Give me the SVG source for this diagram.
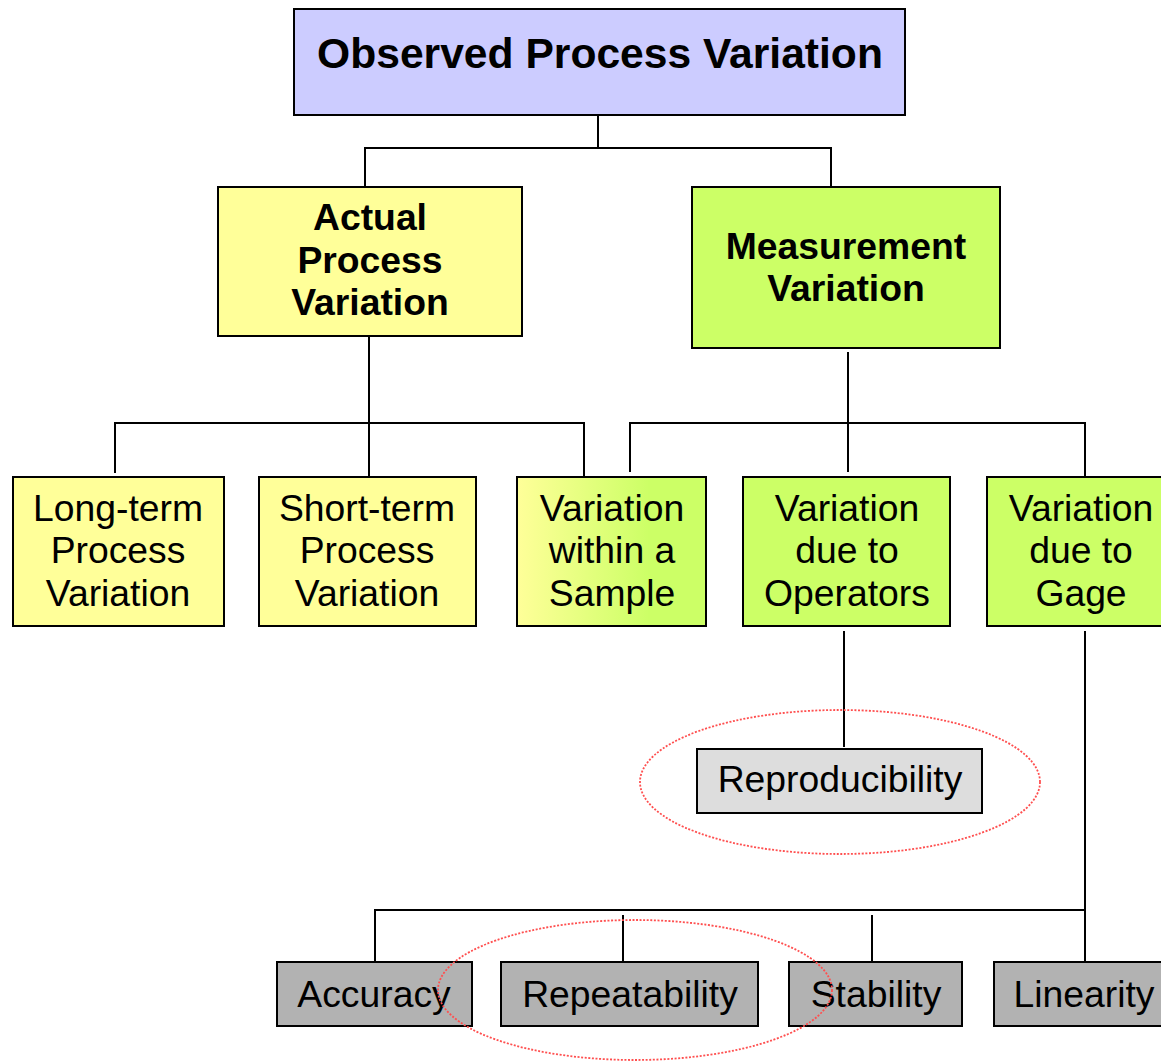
<svg xmlns="http://www.w3.org/2000/svg" width="1161" height="1062" viewBox="0 0 1161 1062">
  <style>
    .box { stroke: #000; stroke-width: 2; }
    .top { fill: #CCCCFF; }
    .yel { fill: #FFFF99; }
    .grn { fill: #CCFF66; }
    .lgr { fill: #DDDDDD; }
    .dgr { fill: #B2B2B2; }
    .conn { stroke: #000; stroke-width: 2; fill: none; }
    .hl { stroke: #FF4F4F; stroke-width: 1.8; stroke-dasharray: 2 1.6; fill: none; }
    text { font-family: "Liberation Sans", Arial, sans-serif; fill: #000; text-anchor: middle; }
    .b { font-weight: bold; }
    .t36 { font-size: 37.3px; }
  </style>
  <defs>
    <linearGradient id="mixFill" x1="0" y1="0" x2="1" y2="0">
      <stop offset="0" stop-color="#FFFF99"/>
      <stop offset="0.7" stop-color="#CCFF66"/>
      <stop offset="1" stop-color="#CCFF66"/>
    </linearGradient>
  </defs>
  <rect width="1161" height="1062" fill="#FFFFFF"/>

  <!-- connectors -->
  <g id="connectors">
    <polyline class="conn" points="598,115 598,148"/>
    <polyline class="conn" points="365,187 365,148 831,148 831,187"/>
    <polyline class="conn" points="369,336 369,477"/>
    <polyline class="conn" points="115,473 115,423 584,423 584,477"/>
    <polyline class="conn" points="848,352 848,472"/>
    <polyline class="conn" points="630,472 630,423 1085,423 1085,477"/>
    <polyline class="conn" points="844,631 844,747"/>
    <polyline class="conn" points="1085,631 1085,962"/>
    <polyline class="conn" points="375,962 375,910 1085,910"/>
    <polyline class="conn" points="623,915 623,962"/>
    <polyline class="conn" points="872,915 872,962"/>
  </g>

  <g id="observed">
    <rect class="box top" x="294" y="9" width="611" height="106"/>
    <text class="b" x="600" y="68" font-size="42.6">Observed Process Variation</text>
  </g>

  <g id="actual">
    <rect class="box yel" x="218" y="187" width="304" height="149"/>
    <text class="b t36" x="370" y="230">Actual</text>
    <text class="b t36" x="370" y="273">Process</text>
    <text class="b t36" x="370" y="315">Variation</text>
  </g>

  <g id="measurement">
    <rect class="box grn" x="692" y="187" width="308" height="161"/>
    <text class="b t36" x="846" y="259">Measurement</text>
    <text class="b t36" x="846" y="301">Variation</text>
  </g>

  <g id="long-term">
    <rect class="box yel" x="13" y="477" width="211" height="149"/>
    <text class="t36" x="118" y="521">Long-term</text>
    <text class="t36" x="118" y="563">Process</text>
    <text class="t36" x="118" y="606">Variation</text>
  </g>

  <g id="short-term">
    <rect class="box yel" x="259" y="477" width="217" height="149"/>
    <text class="t36" x="367" y="521">Short-term</text>
    <text class="t36" x="367" y="563">Process</text>
    <text class="t36" x="367" y="606">Variation</text>
  </g>

  <g id="within-sample">
    <rect class="box" fill="url(#mixFill)" x="517" y="477" width="189" height="149"/>
    <text class="t36" x="612" y="521">Variation</text>
    <text class="t36" x="612" y="563">within a</text>
    <text class="t36" x="612" y="606">Sample</text>
  </g>

  <g id="operators">
    <rect class="box grn" x="743" y="477" width="207" height="149"/>
    <text class="t36" x="847" y="521">Variation</text>
    <text class="t36" x="847" y="563">due to</text>
    <text class="t36" x="847" y="606">Operators</text>
  </g>

  <g id="gage">
    <rect class="box grn" x="987" y="477" width="188" height="149"/>
    <text class="t36" x="1081" y="521">Variation</text>
    <text class="t36" x="1081" y="563">due to</text>
    <text class="t36" x="1081" y="606">Gage</text>
  </g>

  <g id="reproducibility">
    <rect class="box lgr" x="697" y="749" width="285" height="64"/>
    <text class="t36" x="840" y="792">Reproducibility</text>
  </g>

  <g id="accuracy">
    <rect class="box dgr" x="277" y="962" width="195" height="64"/>
    <text class="t36" x="374" y="1007">Accuracy</text>
  </g>

  <g id="repeatability">
    <rect class="box dgr" x="501" y="962" width="257" height="64"/>
    <text class="t36" x="630" y="1007">Repeatability</text>
  </g>

  <g id="stability">
    <rect class="box dgr" x="789" y="962" width="173" height="64"/>
    <text class="t36" x="876" y="1007">Stability</text>
  </g>

  <g id="linearity">
    <rect class="box dgr" x="994" y="962" width="180" height="64"/>
    <text class="t36" x="1084" y="1007">Linearity</text>
  </g>

  <!-- dotted highlight rings -->
  <g id="highlights">
    <ellipse class="hl" cx="840" cy="782" rx="200" ry="72"/>
    <ellipse class="hl" cx="635" cy="990" rx="197" ry="70"/>
  </g>
</svg>
